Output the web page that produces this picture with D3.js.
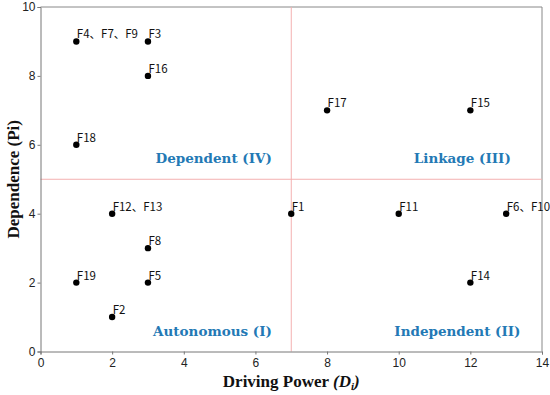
<!DOCTYPE html>
<html><head><meta charset="utf-8">
<script src="https://cdn.jsdelivr.net/npm/d3@7"></script>
<style>body{margin:0;background:#fff}svg{display:block}</style>
</head><body>
<script>
const labels = ["F4、F7、F9","F3","F16","F18","F17","F15","F12、F13","F1","F11","F6、F10","F8","F19","F5","F14","F2"];
const drivingPower = [1,3,3,1,8,12,2,7,10,13,3,1,3,12,2];
const dependence = [9,9,8,6,7,7,4,4,4,4,3,2,2,2,1];
const xTicks = [0,2,4,6,8,10,12,14];
const yTicks = [0,2,4,6,8,10];
const quadrants = [
  {name:"Dependent (IV)", x:6.46, y:5.47, anchor:"end"},
  {name:"Linkage (III)", x:13.13, y:5.47, anchor:"end"},
  {name:"Autonomous (I)", x:6.46, y:0.45, anchor:"end"},
  {name:"Independent (II)", x:13.4, y:0.45, anchor:"end"}
];
const W=550,H=395, m={l:40.5,r:8,t:7,b:43.5};
const svg=d3.select("body").append("svg").attr("width",W).attr("height",H);
const x=d3.scaleLinear().domain([0,14]).range([m.l,W-m.r]);
const y=d3.scaleLinear().domain([0,10]).range([H-m.b,m.t]);
svg.append("path").attr("d",`M${x(0)},${y(10)}H${x(14)}V${y(0)}`).attr("fill","none").attr("stroke","#888").attr("stroke-width",1);
svg.append("line").attr("x1",x(7)).attr("x2",x(7)).attr("y1",y(0)).attr("y2",y(10)).attr("stroke","#f4b0b0").attr("stroke-width",1);
svg.append("line").attr("x1",x(0)).attr("x2",x(14)).attr("y1",y(5)).attr("y2",y(5)).attr("stroke","#f4b0b0").attr("stroke-width",1);
const tickFont="'Liberation Sans', Arial, sans-serif";
const gx=svg.append("g").attr("transform",`translate(0,${y(0)})`).call(d3.axisBottom(x).tickValues(xTicks).tickSize(3).tickFormat(d3.format("d")));
const gy=svg.append("g").attr("transform",`translate(${x(0)},0)`).call(d3.axisLeft(y).tickValues(yTicks).tickSize(3).tickFormat(d3.format("d")));
[gx,gy].forEach(g=>{g.select(".domain").attr("stroke","#777");g.selectAll(".tick line").attr("stroke","#777");g.selectAll("text").attr("font-family",tickFont).attr("font-size",12).attr("fill","#222");});
gx.selectAll("text").attr("dy","0.8em");
gy.selectAll("text").attr("x",-5);
svg.selectAll("text.q").data(quadrants).join("text").attr("class","q")
  .attr("x",d=>x(d.x)).attr("y",d=>y(d.y)).attr("text-anchor",d=>d.anchor)
  .attr("font-family","'DejaVu Serif', 'Liberation Serif', serif").attr("font-weight","bold").attr("font-size",13.5)
  .attr("fill","#2379b5").text(d=>d.name);
const pts=labels.map((l,i)=>({l,x:drivingPower[i],y:dependence[i]}));
svg.selectAll("circle.p").data(pts).join("circle").attr("class","p").attr("cx",d=>x(d.x)).attr("cy",d=>y(d.y)).attr("r",3.2).attr("fill","#000");
svg.selectAll("text.pl").data(pts).join("text").attr("class","pl").attr("x",d=>x(d.x)+0.5).attr("y",d=>y(d.y)-3)
  .attr("font-family","'Noto Sans CJK JP', sans-serif").attr("font-size",11.5).attr("fill","#111").text(d=>d.l);
const xt=svg.append("text").attr("x",x(7)).attr("y",387).attr("text-anchor","middle")
  .attr("font-family","'Liberation Serif', 'Times New Roman', serif").attr("font-weight","bold").attr("font-size",17).attr("fill","#111");
xt.append("tspan").text("Driving Power ");
xt.append("tspan").attr("font-style","italic").text("(D");
xt.append("tspan").attr("font-style","italic").attr("font-size",11).attr("dy",3).text("i");
xt.append("tspan").attr("font-style","italic").attr("dy",-3).text(")");
svg.append("text").attr("transform",`translate(19,${y(5)}) rotate(-90)`).attr("text-anchor","middle")
  .attr("font-family","'Liberation Serif', 'Times New Roman', serif").attr("font-weight","bold").attr("font-size",17).attr("fill","#111")
  .text("Dependence (Pi)");
</script>
</body></html>
